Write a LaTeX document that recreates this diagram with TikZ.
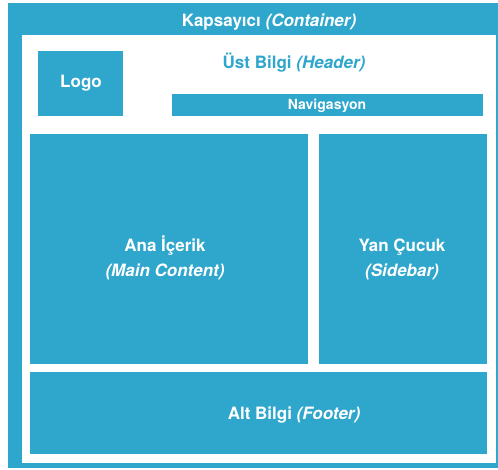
\documentclass[tikz,border=0pt]{standalone}
\usepackage{fontspec}
\setmainfont{TeX Gyre Heros}
\definecolor{boxblue}{RGB}{47,166,204}
\begin{document}
\begin{tikzpicture}[x=1pt,y=-1pt,
  blk/.style={fill=boxblue, draw=none, inner sep=0pt, outer sep=0pt, anchor=north west},
  whitebox/.style={fill=white, draw=none, inner sep=0pt, outer sep=0pt, anchor=north west},
  lbl/.style={text=white, inner sep=0pt, anchor=base, align=center, font=\bfseries\fontsize{17}{25}\selectfont},
  hlbl/.style={lbl, text=boxblue},
  nlbl/.style={lbl, font=\bfseries\fontsize{14}{17}\selectfont}]
\useasboundingbox (0,0) rectangle (498,470);
\node[blk, minimum width=490pt, minimum height=465pt] (container) at (8,3) {};
\node[whitebox, minimum width=474pt, minimum height=428pt] (inner) at (22,35) {};
\node[blk, minimum width=85pt, minimum height=65pt] (logo) at (38,51) {};
\node[blk, minimum width=311pt, minimum height=22pt] (nav) at (172,94) {};
\node[blk, minimum width=278pt, minimum height=230pt] (main) at (30,134) {};
\node[blk, minimum width=168pt, minimum height=230pt] (side) at (319,134) {};
\node[blk, minimum width=457pt, minimum height=82pt] (footer) at (30,372) {};
\node[lbl] (tcont) at (269,27) {Kapsayıcı \textit{(Container)}};
\node[hlbl] (thead) at (294,69) {Üst Bilgi \textit{(Header)}};
\node[lbl] (tlogo) at (81,88) {Logo};
\node[nlbl] (tnav) at (327,110) {Navigasyon};
\node[lbl] (tmain) at (165,277) {Ana İçerik\\\textit{(Main Content)}};
\node[lbl] (tside) at (402,277) {Yan Çucuk\\\textit{(Sidebar)}};
\node[lbl] (tfoot) at (294,419) {Alt Bilgi \textit{(Footer)}};
\end{tikzpicture}
\end{document}
